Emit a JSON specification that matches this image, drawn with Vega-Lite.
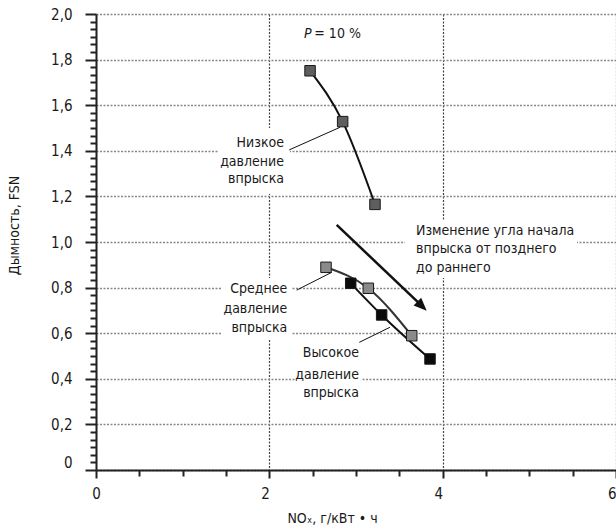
{
  "$schema": "https://vega.github.io/schema/vega-lite/v6.json",
  "width": 520,
  "height": 456,
  "autosize": "none",
  "padding": {"left": 96, "top": 14, "right": 0, "bottom": 58},
  "background": "white",
  "config": {
    "view": {"stroke": null},
    "font": "DejaVu Sans Condensed, Liberation Sans, sans-serif",
    "text": {"font": "DejaVu Sans Condensed, Liberation Sans, sans-serif", "fontSize": 14, "color": "#1a1a1a"}
  },
  "resolve": {"axis": {"x": "independent", "y": "independent"}},
  "datasets": {
    "series": [
      {"series": "Low", "x": 2.47, "y": 1.751},
      {"series": "Low", "x": 2.846, "y": 1.528},
      {"series": "Low", "x": 3.219, "y": 1.165},
      {"series": "Medium", "x": 2.654, "y": 0.889},
      {"series": "Medium", "x": 3.142, "y": 0.797},
      {"series": "Medium", "x": 3.643, "y": 0.589},
      {"series": "High", "x": 2.939, "y": 0.819},
      {"series": "High", "x": 3.296, "y": 0.68},
      {"series": "High", "x": 3.854, "y": 0.487}
    ]
  },
  "encoding": {
    "x": {"field": "x", "type": "quantitative", "scale": {"domain": [0, 6], "nice": false, "zero": false}, "axis": null},
    "y": {"field": "y", "type": "quantitative", "scale": {"domain": [0, 2], "nice": false, "zero": false}, "axis": null}
  },
  "layer": [
    {
      "data": {"values": [
        {"x": 1.408, "x2": 2.238, "y": 1.21, "y2": 1.5},
        {"x": 3.565, "x2": 5.55, "y": 0.842, "y2": 1.096},
        {"x": 1.454, "x2": 2.262, "y": 0.57, "y2": 0.842},
        {"x": 2.308, "x2": 3.069, "y": 0.298, "y2": 0.561}
      ]},
      "mark": {"type": "rect", "fill": "white", "stroke": null},
      "encoding": {
        "x2": {"field": "x2"},
        "y2": {"field": "y2"}
      }
    },
    {
      "data": {"values": [
        {"x": 2.23, "y": 1.404, "x2": 2.815, "y2": 1.503},
        {"x": 2.316, "y": 0.789, "x2": 2.72, "y2": 0.867},
        {"x": 3.038, "y": 0.56, "x2": 3.392, "y2": 0.626}
      ]},
      "mark": {"type": "rule", "color": "#111111", "strokeWidth": 1},
      "encoding": {
        "x": {
          "field": "x", "type": "quantitative", "scale": {"domain": [0, 6], "nice": false, "zero": false},
          "axis": {
            "orient": "bottom",
            "title": "NOₓ, г/кВт • ч",
            "values": [0, 2, 4, 6],
            "labelExpr": "datum.value == 6 ? '6\u00a0\u00a0' : '' + datum.value",
            "labelAlign": {"condition": {"test": "datum.value == 0", "value": "center"}, "value": "right"},
            "labelFlush": false,
            "labelOverlap": false,
            "labelBound": false,
            "labelFontSize": 15,
            "labelColor": "#1a1a1a",
            "labelPadding": 8,
            "domain": true,
            "domainColor": "#222222",
            "domainWidth": 2,
            "ticks": true,
            "tickColor": "#222222",
            "tickWidth": 2,
            "tickSize": 8,
            "grid": true,
            "gridColor": "#444444",
            "gridDash": [2, 1.5],
            "gridWidth": 1.2,
            "titleFontSize": 14,
            "titleFontWeight": "normal",
            "titleColor": "#1a1a1a",
            "titleX": 236,
            "titleY": 48,
            "titleBaseline": "middle",
            "titleAlign": "center"
          }
        },
        "y": {
          "field": "y", "type": "quantitative", "scale": {"domain": [0, 2], "nice": false, "zero": false},
          "axis": {
            "orient": "left",
            "title": "Дымность, FSN",
            "values": [0, 0.2, 0.4, 0.6, 0.8, 1, 1.2, 1.4, 1.6, 1.8, 2],
            "labelExpr": "datum.value == 0 ? '0' : replace(format(datum.value, '.1f'), '.', ',')",
            "labelBaseline": {"condition": {"test": "datum.value == 0", "value": "bottom"}, "value": "middle"},
            "labelFlush": false,
            "labelOverlap": false,
            "labelBound": false,
            "labelFontSize": 15,
            "labelColor": "#1a1a1a",
            "labelPadding": 13,
            "domain": true,
            "domainColor": "#222222",
            "domainWidth": 2,
            "ticks": true,
            "tickColor": "#222222",
            "tickWidth": 2,
            "tickSize": 11,
            "grid": true,
            "gridColor": "#888888",
            "gridDash": [2, 1.5],
            "gridWidth": 1.5,
            "titleFontSize": 14,
            "titleFontWeight": "normal",
            "titleColor": "#1a1a1a",
            "titleX": -82,
            "titleY": 211,
            "titleAngle": 270,
            "titleBaseline": "middle",
            "titleAlign": "center"
          }
        },
        "x2": {"field": "x2"},
        "y2": {"field": "y2"}
      }
    },
    {
      "data": {"values": [{}]},
      "mark": {"type": "rule", "color": "#222222", "strokeWidth": 2.5},
      "encoding": {
        "x": {"datum": 0, "axis": null},
        "x2": {"datum": 6},
        "y": {"datum": 2, "axis": null}
      }
    },
    {
      "data": {"values": [{"x": 2.777, "y": 1.075}, {"x": 3.76, "y": 0.72}]},
      "mark": {"type": "line", "color": "#111111", "strokeWidth": 2.5},
      "encoding": {
        "x": {
          "field": "x", "type": "quantitative", "scale": {"domain": [0, 6], "nice": false, "zero": false},
          "axis": {
            "orient": "bottom", "title": "", "labels": false, "domain": false, "grid": false,
            "values": [0.5, 1, 1.5, 2.5, 3, 3.5, 4.5, 5, 5.5],
            "ticks": true, "tickSize": 6, "tickWidth": 2, "tickColor": "#222222", "tickOpacity": 1, "zindex": 2
          }
        },
        "y": {
          "field": "y", "type": "quantitative", "scale": {"domain": [0, 2], "nice": false, "zero": false},
          "axis": {
            "orient": "left", "title": "", "labels": false, "domain": false, "grid": false,
            "values": [0.0333, 0.0667, 0.1, 0.1333, 0.1667, 0.2333, 0.2667, 0.3, 0.3333, 0.3667, 0.4333, 0.4667, 0.5, 0.5333, 0.5667, 0.6333, 0.6667, 0.7, 0.7333, 0.7667, 0.8333, 0.8667, 0.9, 0.9333, 0.9667, 1.0333, 1.0667, 1.1, 1.1333, 1.1667, 1.2333, 1.2667, 1.3, 1.3333, 1.3667, 1.4333, 1.4667, 1.5, 1.5333, 1.5667, 1.6333, 1.6667, 1.7, 1.7333, 1.7667, 1.8333, 1.8667, 1.9, 1.9333, 1.9667],
            "ticks": true, "tickSize": 6, "tickWidth": 2, "tickColor": "#222222", "tickOpacity": 1, "zindex": 2
          }
        }
      }
    },
    {
      "data": {"values": [{"x": 3.816, "y": 0.699}]},
      "mark": {"type": "point", "shape": "M0,0 L-1,-0.42 L-1,0.42 Z", "filled": true, "color": "#111111", "opacity": 1, "size": 676, "angle": 44},
      "encoding": {}
    },
    {
      "data": {"name": "series"},
      "mark": {"type": "line", "interpolate": "monotone", "strokeWidth": 2},
      "encoding": {
        "stroke": {"field": "series", "type": "nominal", "scale": {"domain": ["Low", "Medium", "High"], "range": ["#111111", "#333333", "#111111"]}, "legend": null}
      }
    },
    {
      "data": {"name": "series"},
      "mark": {"type": "square", "size": 110, "stroke": "#1a1a1a", "strokeWidth": 1, "filled": true, "opacity": 1},
      "encoding": {
        "fill": {"field": "series", "type": "nominal", "scale": {"domain": ["Low", "Medium", "High"], "range": ["#5e5e5e", "#8a8a8a", "#0a0a0a"]}, "legend": null}
      }
    },
    {
      "data": {"values": [
        {"x": 2.169, "y": 1.436, "label": "Низкое"},
        {"x": 2.169, "y": 1.352, "label": "давление"},
        {"x": 2.169, "y": 1.275, "label": "впрыска"},
        {"x": 2.207, "y": 0.7925, "label": "Среднее"},
        {"x": 2.207, "y": 0.706, "label": "давление"},
        {"x": 2.207, "y": 0.621, "label": "впрыска"},
        {"x": 3.035, "y": 0.512, "label": "Высокое"},
        {"x": 3.035, "y": 0.417, "label": "давление"},
        {"x": 3.035, "y": 0.336, "label": "впрыска"}
      ]},
      "mark": {"type": "text", "align": "right", "baseline": "middle"},
      "encoding": {"text": {"field": "label"}}
    },
    {
      "data": {"values": [
        {"x": 3.692, "y": 1.05, "label": "Изменение угла начала"},
        {"x": 3.692, "y": 0.968, "label": "впрыска от позднего"},
        {"x": 3.692, "y": 0.885, "label": "до раннего"},
        {"x": 2.519, "y": 1.912, "label": "= 10 %"}
      ]},
      "mark": {"type": "text", "align": "left", "baseline": "middle"},
      "encoding": {"text": {"field": "label"}}
    },
    {
      "data": {"values": [{"x": 2.4, "y": 1.912, "label": "P"}]},
      "mark": {"type": "text", "align": "left", "baseline": "middle", "fontStyle": "italic"},
      "encoding": {"text": {"field": "label"}}
    }
  ]
}
